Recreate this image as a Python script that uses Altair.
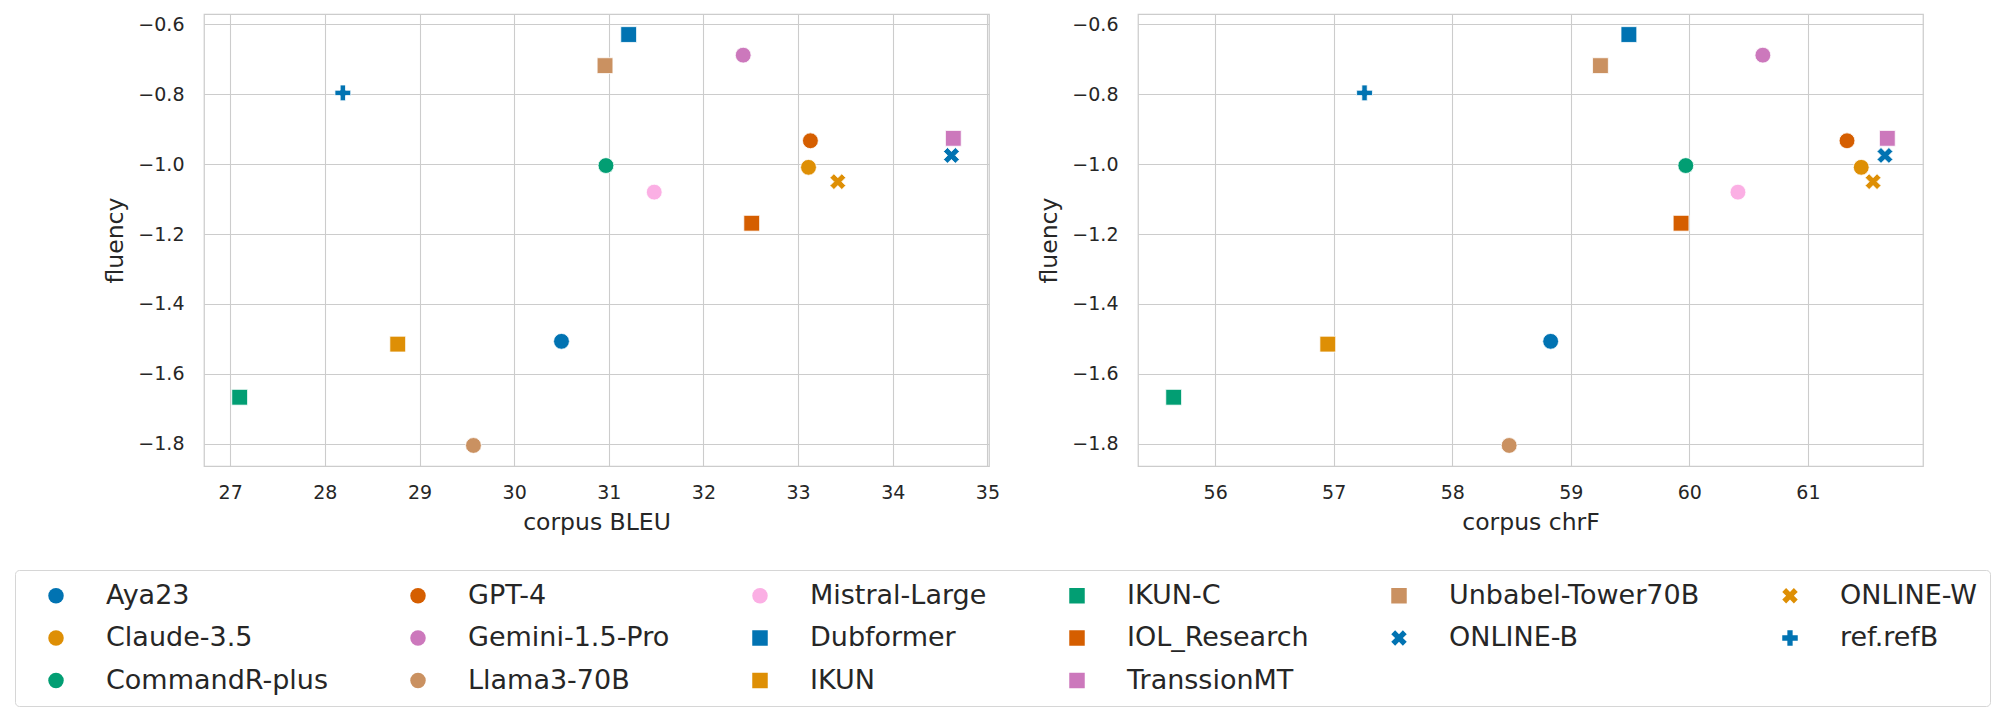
import altair as alt
import pandas as pd

# ---- data ----
systems = ["Aya23", "Claude-3.5", "CommandR-plus", "GPT-4", "Gemini-1.5-Pro", "Llama3-70B",
           "Mistral-Large", "Dubformer", "IKUN", "IKUN-C", "IOL_Research", "TranssionMT",
           "Unbabel-Tower70B", "ONLINE-B", "ONLINE-W", "ref.refB"]
bleu = [30.50, 33.11, 30.97, 33.13, 32.42, 29.57, 31.48, 31.21, 28.77, 27.10, 32.51, 34.64,
        30.96, 34.62, 33.42, 28.19]
chrf = [58.83, 61.45, 59.97, 61.33, 60.62, 58.48, 60.41, 59.49, 56.95, 55.65, 59.93, 61.67,
        59.25, 61.65, 61.55, 57.26]
fluency = [-1.507, -1.009, -1.004, -0.933, -0.688, -1.805, -1.080, -0.629, -1.515, -1.667,
           -1.169, -0.926, -0.718, -0.975, -1.050, -0.796]
colors = ["#0173b2", "#de8f05", "#029e73", "#d55e00", "#cc78bc", "#ca9161", "#fbafe4",
          "#0173b2", "#de8f05", "#029e73", "#d55e00", "#cc78bc", "#ca9161",
          "#0173b2", "#de8f05", "#0173b2"]
marker_kinds = ["circle"] * 7 + ["square"] * 6 + ["x"] * 2 + ["plus"]

bleu_ticks = [27, 28, 29, 30, 31, 32, 33, 34, 35]
chrf_ticks = [56, 57, 58, 59, 60, 61]
fluency_ticks = [-1.8, -1.6, -1.4, -1.2, -1.0, -0.8, -0.6]

# ---- styling ----
X_PATH = "M-1,-0.5L-0.5,-1L0,-0.5L0.5,-1L1,-0.5L0.5,0L1,0.5L0.5,1L0,0.5L-0.5,1L-1,0.5L-0.5,0Z"
PLUS_PATH = ("M-1,-0.34L-0.34,-0.34L-0.34,-1L0.34,-1L0.34,-0.34L1,-0.34L1,0.34L0.34,0.34"
             "L0.34,1L-0.34,1L-0.34,0.34L-1,0.34Z")
shape_of_kind = {"circle": "circle", "square": "square", "x": X_PATH, "plus": PLUS_PATH}

TEXT = "#262626"
GRID = "#cccccc"
FONT = "DejaVu Sans"


def padded(vals, frac=0.05):
    lo, hi = min(vals), max(vals)
    m = (hi - lo) * frac
    return [lo - m, hi + m]


# legend: 6 columns filled top-to-bottom (first columns get the extra entries),
# converted to row-major order for a horizontal Vega legend grid
ncols = 6
n = len(systems)
base, extra = divmod(n, ncols)
heights = [base + 1 if c < extra else base for c in range(ncols)]
cols, i = [], 0
for h in heights:
    cols.append(systems[i:i + h])
    i += h
nrows = max(heights)
legend_order = [cols[c][r] for r in range(nrows) for c in range(ncols) if r < len(cols[c])]

color_of = dict(zip(systems, colors))
shape_of = {s: shape_of_kind[k] for s, k in zip(systems, marker_kinds)}

df = pd.DataFrame({"system": systems, "bleu": bleu, "chrf": chrf, "fluency": fluency})

legend = alt.Legend(
    title=None, orient="none", direction="horizontal", legendX=-189, legendY=556,
    columns=ncols, symbolSize=240, symbolOffset=15.5, labelOffset=36.5, labelFontSize=27,
    labelFont=FONT, labelColor=TEXT, labelLimit=600, rowPadding=14.5, columnPadding=61,
    padding=12, strokeColor="#d6d6d6", fillColor="white", cornerRadius=4,
    symbolStrokeWidth=0, symbolOpacity=1,
)
color = alt.Color("system:N", scale=alt.Scale(domain=legend_order,
                                              range=[color_of[s] for s in legend_order]),
                  legend=legend)
shape = alt.Shape("system:N", scale=alt.Scale(domain=legend_order,
                                              range=[shape_of[s] for s in legend_order]),
                  legend=legend)

ydom = padded(fluency)


def panel(field, title, ticks, vals):
    return alt.Chart(df).mark_point(
        filled=True, size=250, opacity=1, stroke="white", strokeWidth=0.8
    ).encode(
        x=alt.X(f"{field}:Q", title=title,
                scale=alt.Scale(domain=padded(vals), nice=False, zero=False),
                axis=alt.Axis(values=ticks, format="d")),
        y=alt.Y("fluency:Q", title="fluency",
                scale=alt.Scale(domain=ydom, nice=False, zero=False),
                axis=alt.Axis(values=fluency_ticks, format=".1f")),
        color=color,
        shape=shape,
    ).properties(width=785, height=452)


left = panel("bleu", "corpus BLEU", bleu_ticks, bleu)
right = panel("chrf", "corpus chrF", chrf_ticks, chrf)

chart = alt.hconcat(left, right, spacing=36).properties(
    padding={"left": 6, "top": 5, "right": 2, "bottom": 5},
    background="white",
).configure(font=FONT).configure_view(
    stroke=GRID, strokeWidth=1.25
).configure_axis(
    labelFont=FONT, labelFontSize=19, labelColor=TEXT,
    titleFont=FONT, titleFontSize=23.5, titleColor=TEXT, titleFontWeight="normal",
    grid=True, gridColor=GRID, gridWidth=1.1, domain=False, ticks=False, tickSize=0,
).configure_axisX(labelPadding=17, titlePadding=8).configure_axisY(labelPadding=20, titlePadding=10)

chart.save("out.html", embed_options={"renderer": "svg", "actions": False})
